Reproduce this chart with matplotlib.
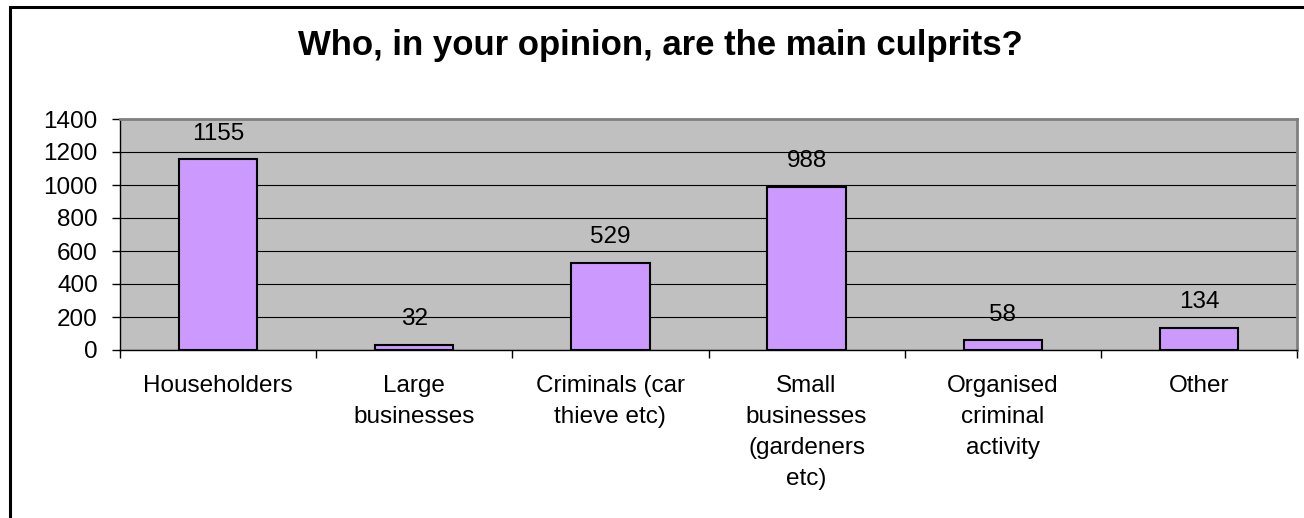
import matplotlib
matplotlib.use("Agg")
import matplotlib.pyplot as plt
from matplotlib.patches import Rectangle
import numpy as np

categories = ["Householders", "Large\nbusinesses", "Criminals (car\nthieve etc)",
              "Small\nbusinesses\n(gardeners\netc)", "Organised\ncriminal\nactivity", "Other"]
values = [1155, 32, 529, 988, 58, 134]
yticks = [0, 200, 400, 600, 800, 1000, 1200, 1400]
title = "Who, in your opinion, are the main culprits?"

plt.rcParams['font.family'] = ['Liberation Sans', 'DejaVu Sans']

W, H = 1304, 518
fig = plt.figure(figsize=(W / 100, H / 100), dpi=100)
fig.patch.set_facecolor("white")

ax = fig.add_axes([120 / W, 1 - 350 / H, (1297 - 120) / W, (350 - 119) / H])
ax.set_facecolor("#C0C0C0")

FS = 17.5
x = np.arange(len(categories))
ax.bar(x, values, width=0.4, color="#CC99FF", edgecolor="black", linewidth=1.5, zorder=3)
for xi, v in zip(x, values):
    ax.annotate(str(v), (xi, v), xytext=(0, 10.5), textcoords="offset points",
                ha="center", va="bottom", fontsize=FS, zorder=4)

ax.set_xlim(-0.5, len(categories) - 0.5)
ax.set_ylim(0, 1400)
ax.set_yticks(yticks)
ax.set_yticklabels([str(t) for t in yticks], fontsize=FS)
ax.yaxis.grid(True, color="black", linewidth=0.8, zorder=1)
ax.set_axisbelow(True)

ax.set_xticks(x)
ax.set_xticklabels(categories, fontsize=FS, linespacing=1.53, va="top")
ax.tick_params(axis="x", which="major", length=0, pad=18)
ax.set_xticks(np.arange(len(categories) + 1) - 0.5, minor=True)
ax.tick_params(axis="x", which="minor", length=6, width=1, color="black", direction="out")
ax.tick_params(axis="y", length=6, width=1, direction="out", pad=10)

for s in ["left", "bottom"]:
    ax.spines[s].set_color("black")
    ax.spines[s].set_linewidth(1)
for s in ["top", "right"]:
    ax.spines[s].set_color("#808080")
    ax.spines[s].set_linewidth(2)

fig.text(660 / W, 1 - 55 / H, title, ha="center", va="baseline", fontsize=25, fontweight="bold")

# chart border (top and left visible)
fig.add_artist(Rectangle((9.5 / W, -0.1), 1.2, 1 - 6.5 / H + 0.1, transform=fig.transFigure,
                         fill=False, edgecolor="black", linewidth=2.2))

fig.savefig("out.png", dpi=100)
